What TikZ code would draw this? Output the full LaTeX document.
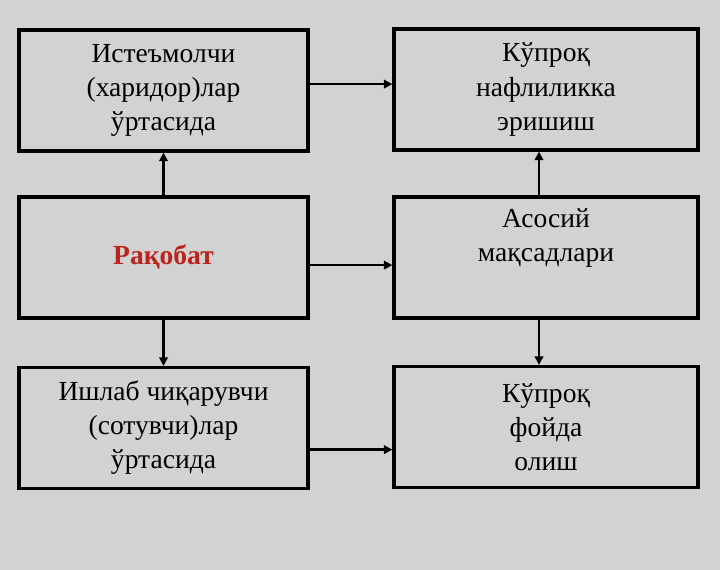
\documentclass[tikz,border=0pt]{standalone}
\usepackage{fontspec}
\setmainfont{Liberation Serif}
\usepackage{tikz}
\usetikzlibrary{arrows.meta,positioning,calc,backgrounds}
\usepackage{xcolor}
\definecolor{SlideGray}{RGB}{210,210,210}
\definecolor{RivalRed}{RGB}{186,36,28}

\tikzset{
  box/.style={draw=black,fill=SlideGray,line width=2.3pt,minimum height=3.025cm,
              align=center,inner sep=0pt,font=\fontsize{19.6}{24.2}\selectfont},
  leftbox/.style={box,minimum width=7.225cm},
  rightbox/.style={box,minimum width=7.6cm},
  arr/.style={line width=1.7pt,-{Triangle[length=6pt,width=6pt]}}
}

\begin{document}
\begin{tikzpicture}
  % background
  \fill[SlideGray] (0,0) rectangle (18,-14.25);
  \useasboundingbox (0,0) rectangle (18,-14.25);
  % left column
  \node[leftbox] (buyers) at (4.0875,-2.2625) {Истеъмолчи\\(харидор)лар\\ўртасида};
  \node[leftbox] (rival) at (4.0875,-6.4375)
    {\textcolor{RivalRed}{\textbf{Рақобат}}};
  \node[leftbox] (sellers) at (4.0875,-10.7) {Ишлаб чиқарувчи\\(сотувчи)лар\\ўртасида};
  % right column
  \node[rightbox] (benefit) at (13.65,-2.2375) {Кўпроқ\\нафлиликка\\эришиш};
  \node[rightbox] (goals) at (13.65,-6.4375) {Асосий\\мақсадлари\\\strut};
  \node[rightbox] (profit) at (13.65,-10.675) {Кўпроқ\\фойда\\олиш};
  % connectors
  \draw[arr] (rival.north) -- (buyers.south);
  \draw[arr] (rival.south) -- (sellers.north);
  \draw[arr] ([yshift=0.16cm]buyers.east) -- ([yshift=0.16cm]buyers.east -| benefit.west);
  \draw[arr] ([yshift=-0.19cm]rival.east) -- ([yshift=-0.19cm]rival.east -| goals.west);
  \draw[arr] ([yshift=-0.54cm]sellers.east) -- ([yshift=-0.54cm]sellers.east -| profit.west);
  \draw[arr] ([xshift=-0.175cm]goals.north) -- ([xshift=-0.175cm]benefit.south);
  \draw[arr] ([xshift=-0.175cm]goals.south) -- ([xshift=-0.175cm]profit.north);
\end{tikzpicture}
\end{document}
